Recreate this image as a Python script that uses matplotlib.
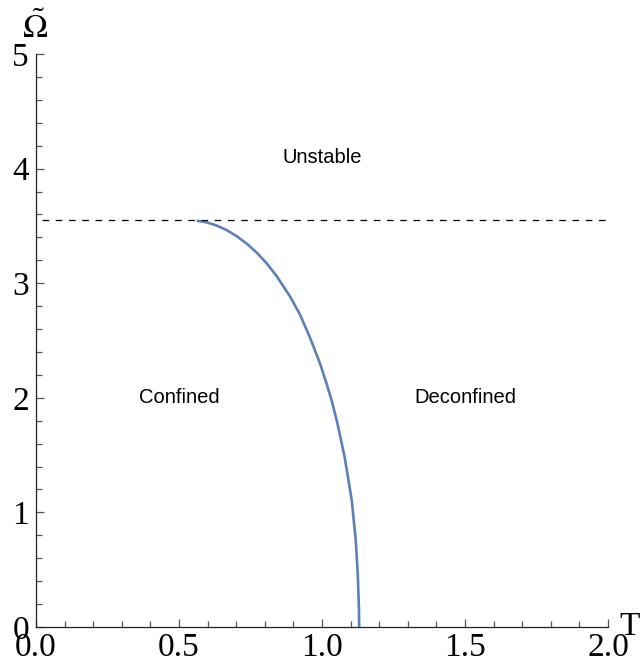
import numpy as np
import matplotlib
matplotlib.use('Agg')
import matplotlib.pyplot as plt
from matplotlib.ticker import MultipleLocator

# phase boundary (T, Omega~)
T_curve = [0.562, 0.597, 0.632, 0.667, 0.702, 0.737, 0.772, 0.807, 0.842,
           0.888, 0.923, 0.958, 0.993, 1.017, 1.034, 1.054, 1.079, 1.104,
           1.118, 1.125, 1.129, 1.130]
W_curve = [3.545, 3.531, 3.503, 3.463, 3.410, 3.345, 3.266, 3.172, 3.060,
           2.885, 2.727, 2.525, 2.300, 2.115, 1.975, 1.776, 1.485, 1.107,
           0.757, 0.466, 0.175, 0.0]
W_unstable = 3.55
region_names = ["Unstable", "Confined", "Deconfined"]
region_T = [1.0, 0.5, 1.5]
region_W = [4.1, 2.0, 2.0]

BLUE = "#5E81B5"
plt.rcParams.update({"font.family": "Liberation Serif", "mathtext.fontset": "stix"})

fig = plt.figure(figsize=(6.42, 6.62), dpi=100)
ax = fig.add_axes([36/642, 35/662, 572/642, 573/662])

ax.plot(T_curve, W_curve, color=BLUE, lw=1.9, solid_capstyle="butt", solid_joinstyle="round")
ax.plot([0.02, 2.0], [W_unstable, W_unstable], color="black", lw=0.9, dashes=(5.3, 5.3))

for name, t, w in zip(region_names, region_T, region_W):
    ax.text(t, w, name, family="Liberation Sans", fontsize=14.5, ha="center", va="center")

ax.set_xlim(0, 2.0); ax.set_ylim(0, 5)
for s in ["top", "right"]:
    ax.spines[s].set_visible(False)
for s in ["left", "bottom"]:
    ax.spines[s].set_linewidth(0.9); ax.spines[s].set_color("#222222")

ax.xaxis.set_major_locator(MultipleLocator(0.5)); ax.xaxis.set_minor_locator(MultipleLocator(0.1))
ax.yaxis.set_major_locator(MultipleLocator(1)); ax.yaxis.set_minor_locator(MultipleLocator(0.2))
ax.xaxis.set_major_formatter(plt.FormatStrFormatter("%.1f"))
ax.tick_params(which="both", direction="in", color="#555555", width=0.9, labelsize=24)
ax.tick_params(which="major", length=6)
ax.tick_params(which="minor", length=4)
ax.tick_params(axis="x", which="major", pad=4)
ax.tick_params(axis="y", which="major", pad=5)

fig.text(35/642, 1 - 38/662, r"$\tilde{\Omega}$", fontsize=24, ha="center", va="baseline")
fig.text(630/642, 1 - 635/662, "T", fontsize=24, ha="center", va="baseline")

fig.savefig("out.png", dpi=100)
